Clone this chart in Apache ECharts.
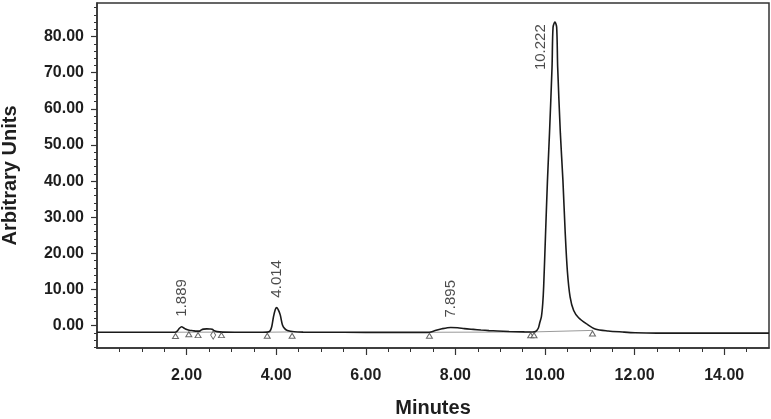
<!DOCTYPE html>
<html><head><meta charset="utf-8">
<script src="https://cdn.jsdelivr.net/npm/echarts@6/dist/echarts.min.js"></script>
<style>html,body{margin:0;padding:0;background:#fff}#c{width:771px;height:419px}</style>
</head><body><div id="c"></div>
<script>
// Chromatogram trace (minutes, arbitrary units)
const traceTime = [0.00,0.50,1.00,1.50,1.74,1.79,1.84,1.889,1.93,1.99,2.06,2.14,2.22,2.29,2.33,2.38,2.45,2.52,2.57,2.62,2.68,2.80,3.20,3.70,3.80,3.86,3.90,3.94,3.98,4.014,4.05,4.09,4.14,4.19,4.25,4.40,4.60,5.50,6.50,7.30,7.42,7.55,7.70,7.895,8.05,8.20,8.40,8.57,8.75,8.94,9.20,9.54,9.72,9.79,9.85,9.88,9.92,9.95,9.97,10.01,10.055,10.10,10.157,10.18,10.222,10.26,10.283,10.343,10.40,10.45,10.50,10.56,10.64,10.75,10.93,11.12,11.41,11.73,12.01,12.50,13.50,15.00];
const traceSignal = [-1.80,-1.80,-1.81,-1.82,-1.80,-1.50,-0.70,-0.28,-0.55,-1.00,-1.25,-1.38,-1.50,-1.50,-1.15,-0.95,-0.88,-0.92,-0.98,-1.40,-1.65,-1.78,-1.82,-1.82,-1.78,-1.50,-0.30,2.50,4.50,5.00,4.30,3.00,0.20,-0.80,-1.30,-1.68,-1.78,-1.82,-1.85,-1.85,-1.80,-1.35,-0.85,-0.50,-0.58,-0.80,-1.02,-1.20,-1.35,-1.46,-1.60,-1.72,-1.74,-1.62,-0.70,0.70,2.50,6.20,10.8,24.6,40.2,53.2,71.5,82.6,84.0,82.6,71.5,53.2,40.2,26.0,15.0,8.0,4.2,2.2,0.5,-0.9,-1.46,-1.75,-1.95,-2.05,-2.05,-2.05];

// Peak start/end markers (open triangles) and one diamond marker
const markerTime = [1.752,2.05,2.256,2.778,3.80,4.355,7.42,9.68,9.755,11.06];
const markerSignal = [-2.85,-2.35,-2.6,-2.6,-2.8,-2.8,-2.8,-2.65,-2.65,-2.15];
const diamondTime = [2.593];
const diamondSignal = [-2.6];

// Integration baselines (grey)
const baseFromTime = [1.752,3.80,7.42,9.755];
const baseFromSignal = [-1.80,-1.80,-1.82,-1.72];
const baseToTime = [2.778,4.355,9.68,11.06];
const baseToSignal = [-1.78,-1.72,-1.74,-1.30];

// Peak labels
const peakTimes = [1.889,4.014,7.895,10.222];
const peakHeights = [-0.28,5.0,-0.5,84.0];
const peakNames = ['1.889','4.014','7.895','10.222'];

// Axis ticks
const xMajorTicks = [2,4,6,8,10,12,14];
const xMinorTicks = [0.5,1,1.5,2.5,3,3.5,4.5,5,5.5,6.5,7,7.5,8.5,9,9.5,10.5,11,11.5,12.5,13,13.5,14.5];
const yMajorTicks = [0,10,20,30,40,50,60,70,80];
const yMinorTicks = [-6,-4,-2,2,4,6,8,12,14,16,18,22,24,26,28,32,34,36,38,42,44,46,48,52,54,56,58,62,64,66,68,72,74,76,78,82,84,86,88];

const FONT = '"Liberation Sans", Arial, sans-serif';
const AX = '#333';

const chart = echarts.init(document.getElementById('c'), null, {renderer: 'canvas'});

const baseData = [];
baseFromTime.forEach((t, i) => {
  baseData.push([t, baseFromSignal[i]]);
  baseData.push([baseToTime[i], baseToSignal[i]]);
  baseData.push(null);
});

chart.setOption({
  animation: false,
  backgroundColor: '#fff',
  grid: {left: 97, right: 2, top: 3, bottom: 71, show: true, borderColor: AX, borderWidth: 1.5,
         containLabel: false, outerBoundsMode: 'none'},
  xAxis: [{
    type: 'value', min: 0, max: 15, position: 'bottom',
    axisLine: {show: true, onZero: false, lineStyle: {color: AX, width: 1.5}},
    axisTick: {show: true, customValues: xMajorTicks, length: 7, lineStyle: {color: AX, width: 1.2}},
    axisLabel: {customValues: xMajorTicks, formatter: v => v.toFixed(2), margin: 20,
                color: '#1e1e1e', fontWeight: 'bold', fontSize: 16, fontFamily: FONT},
    splitLine: {show: false},
    name: 'Minutes', nameLocation: 'middle', nameGap: 50,
    nameTextStyle: {color: '#1e1e1e', fontWeight: 'bold', fontSize: 20, fontFamily: FONT}
  }, {
    type: 'value', min: 0, max: 15, position: 'bottom',
    axisLine: {show: false, onZero: false},
    axisTick: {show: true, customValues: xMinorTicks, length: 4, lineStyle: {color: AX, width: 1}},
    axisLabel: {show: false},
    splitLine: {show: false}
  }],
  yAxis: [{
    type: 'value', min: -6.17, max: 89.28, position: 'left',
    axisLine: {show: true, onZero: false, lineStyle: {color: AX, width: 1.5}},
    axisTick: {show: true, customValues: yMajorTicks, length: 6, lineStyle: {color: AX, width: 1.2}},
    axisLabel: {customValues: yMajorTicks, formatter: v => v.toFixed(2), margin: 13,
                color: '#1e1e1e', fontWeight: 'bold', fontSize: 16, fontFamily: FONT},
    splitLine: {show: false},
    name: 'Arbitrary Units', nameLocation: 'middle', nameGap: 77,
    nameTextStyle: {color: '#1e1e1e', fontWeight: 'bold', fontSize: 20, fontFamily: FONT}
  }, {
    type: 'value', min: -6.17, max: 89.28, position: 'left',
    axisLine: {show: false, onZero: false},
    axisTick: {show: true, customValues: yMinorTicks, length: 3, lineStyle: {color: AX, width: 1}},
    axisLabel: {show: false},
    splitLine: {show: false}
  }],
  series: [
    {
      type: 'line', z: 2, silent: true, showSymbol: false, connectNulls: false,
      data: baseData, lineStyle: {color: '#9a9a9a', width: 1}
    },
    {
      type: 'line', z: 3, silent: true, showSymbol: false, smooth: 0.3,
      data: traceTime.map((t, i) => [t, traceSignal[i]]),
      lineStyle: {color: '#1a1a1a', width: 1.6}
    },
    {
      type: 'scatter', z: 4, silent: true, symbol: 'triangle', symbolSize: [6, 5],
      data: markerTime.map((t, i) => [t, markerSignal[i]]),
      itemStyle: {color: '#fff', borderColor: '#444', borderWidth: 1}
    },
    {
      type: 'scatter', z: 4, silent: true, symbol: 'diamond', symbolSize: [5, 8],
      data: diamondTime.map((t, i) => [t, diamondSignal[i]]),
      itemStyle: {color: '#fff', borderColor: '#444', borderWidth: 1}
    },
    {
      type: 'scatter', z: 5, silent: true, symbol: 'circle', symbolSize: 0,
      data: peakTimes.map((t, i) => ({
        value: [t, peakHeights[i]], name: peakNames[i],
        label: i === 3 ? {position: [-14, 48]} : undefined
      })),
      label: {
        show: true, formatter: p => p.name, rotate: 90, position: [0, -10],
        align: 'left', verticalAlign: 'middle',
        color: '#1e1e1e', fontSize: 15, fontFamily: FONT
      }
    }
  ]
});
</script>
</body></html>
